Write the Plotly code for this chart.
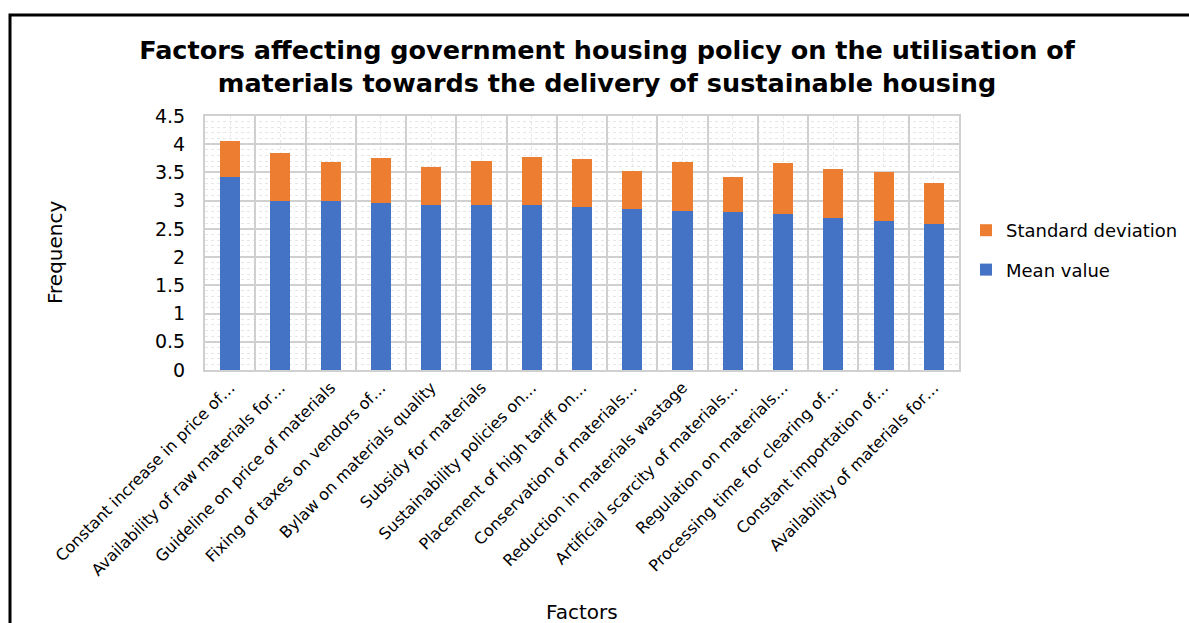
import plotly.graph_objects as go

# Factors and their scores
factors = [
    "Constant increase in price of…",
    "Availability of raw materials for…",
    "Guideline on price of materials",
    "Fixing of taxes on vendors of…",
    "Bylaw on materials quality",
    "Subsidy for materials",
    "Sustainability policies on…",
    "Placement of high tariff on…",
    "Conservation of materials…",
    "Reduction in materials wastage",
    "Artificial scarcity of materials…",
    "Regulation on materials…",
    "Processing time for clearing of…",
    "Constant importation of…",
    "Availability of materials for…",
]
mean_value = [3.42, 3.00, 3.00, 2.96, 2.92, 2.92, 2.92, 2.88, 2.86, 2.82, 2.80, 2.76, 2.70, 2.64, 2.58]
std_dev = [0.64, 0.84, 0.68, 0.80, 0.68, 0.78, 0.86, 0.86, 0.66, 0.87, 0.62, 0.90, 0.86, 0.86, 0.74]
y_ticks = [0, 0.5, 1, 1.5, 2, 2.5, 3, 3.5, 4, 4.5]

W, H = 1189, 623
ML, MR, MT, MB = 205, 230, 116, 253
FONT = "DejaVu Sans, Arial, sans-serif"

fig = go.Figure()
fig.add_trace(go.Bar(x=factors, y=mean_value, name="Mean value",
                     legendgroup="mean", legendrank=2,
                     marker=dict(color="#4472C4", line=dict(width=0))))
fig.add_trace(go.Bar(x=factors, y=std_dev, name="Standard deviation",
                     legendgroup="sd", legendrank=1,
                     marker=dict(color="#ED7D31", line=dict(width=0))))
# invisible helper trace on an overlaid linear axis for the light centre gridlines
fig.add_trace(go.Scatter(x=[0, len(factors) - 1], y=[0, 0], xaxis="x2", mode="none",
                         showlegend=False, hoverinfo="skip"))

pw = W - ML - MR
ph = H - MT - MB

fig.update_layout(
    width=W, height=H,
    margin=dict(l=ML, r=MR, t=MT, b=MB, autoexpand=False),
    barmode="stack",
    bargap=0.6,
    plot_bgcolor="white",
    paper_bgcolor="white",
    font=dict(family=FONT, color="black"),
    title=dict(
        text="<b>Factors affecting government housing policy on the utilisation of<br>"
             "materials towards the delivery of sustainable housing</b>",
        x=607 / W, xanchor="center", y=1 - 59 / H, yanchor="middle",
        font=dict(size=25.5, family=FONT, color="black"),
    ),
    legend=dict(
        traceorder="grouped",
        xref="container", yref="container",
        x=966 / W, xanchor="left", y=1 - 250 / H, yanchor="middle",
        font=dict(size=18, family=FONT),
        bgcolor="rgba(0,0,0,0)",
        itemwidth=30, tracegroupgap=13,
    ),
    showlegend=True,
    xaxis=dict(
        tickangle=-45,
        tickfont=dict(size=16, family=FONT),
        tickson="boundaries",
        showgrid=True, gridcolor="#d0d0d0", gridwidth=2,
        ticks="", showline=True, linecolor="#d0d0d0", linewidth=2,
        mirror=True, automargin=False,
    ),
    xaxis2=dict(
        overlaying="x", range=[-0.5, len(factors) - 0.5],
        tick0=0, dtick=1, showticklabels=False, ticks="",
        showgrid=True, gridcolor="#e8e8e8", griddash="dot", gridwidth=1,
        zeroline=False, showline=False,
    ),
    yaxis=dict(
        range=[0, 4.5],
        tickvals=y_ticks,
        tickfont=dict(size=19, family=FONT),
        showgrid=True, gridcolor="#d0d0d0", gridwidth=2,
        minor=dict(dtick=0.1, showgrid=True, gridcolor="#e6e6e6", griddash="dot", gridwidth=1),
        zeroline=False,
        showline=True, linecolor="#d0d0d0", linewidth=2, mirror=True,
        ticklabelstandoff=14, automargin=False,
    ),
    annotations=[
        dict(text="Frequency", xref="paper", yref="paper",
             x=(55 - ML) / pw, y=(H - MB - 253) / ph,
             textangle=-90, showarrow=False, xanchor="center", yanchor="middle",
             font=dict(size=20, family=FONT)),
        dict(text="Factors", xref="paper", yref="paper",
             x=(582 - ML) / pw, y=-(612 - (H - MB)) / ph,
             showarrow=False, xanchor="center", yanchor="middle",
             font=dict(size=20, family=FONT)),
    ],
    shapes=[
        dict(type="rect", xref="paper", yref="paper",
             x0=(10 - ML) / pw, x1=(W + 40 - ML) / pw,
             y0=-(H + 40 - (H - MB)) / ph, y1=(H - MB - 15) / ph,
             line=dict(color="black", width=3), layer="above"),
    ],
)

fig.write_html("out.html")
